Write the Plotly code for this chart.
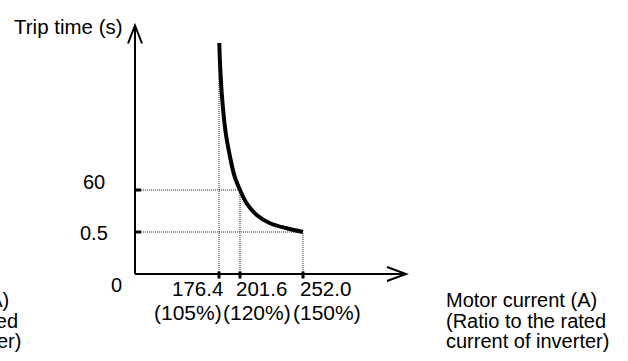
import plotly.graph_objects as go

# ---- data (schematic chart) ----
current_labels = ["176.4", "201.6", "252.0"]
ratio_labels = ["(105%)", "(120%)", "(150%)"]
time_labels = ["60", "0.5"]
origin_label = "0"
y_title = "Trip time (s)"
x_title_lines = ["Motor current (A)", "(Ratio to the rated", "current of inverter)"]

# schematic positions of the ticks along the axes
current_pos = [84, 105, 168]
time_pos = [84, 42]

# trip curve (schematic units)
curve_x = [84.3, 85, 87, 90.3, 95, 99.7, 105, 111.7, 121.7, 135, 151.7, 168]
curve_y = [231, 210.7, 177.3, 144, 117.3, 97.3, 84, 70.7, 59, 50.7, 45.7, 42]

FONT = "Arial, Liberation Sans, sans-serif"
X_END, Y_END = 271, 248.5
W, H = 628, 361
X0, Y0 = 135, 274        # origin position inside the figure (px)

fig = go.Figure()
fig.add_trace(go.Scatter(x=curve_x, y=curve_y, mode="lines",
                         line=dict(color="black", width=4, shape="spline"),
                         hoverinfo="skip", showlegend=False))

shapes = []
dot = dict(color="#222222", width=1, dash="1px,1px")
# dotted guides
shapes.append(dict(type="line", x0=current_pos[0], x1=current_pos[0], y0=0, y1=curve_y[0], line=dot))
shapes.append(dict(type="line", x0=current_pos[1], x1=current_pos[1], y0=0, y1=time_pos[0], line=dot))
shapes.append(dict(type="line", x0=current_pos[2], x1=current_pos[2], y0=0, y1=time_pos[1], line=dot))
shapes.append(dict(type="line", x0=0, x1=current_pos[1], y0=time_pos[0], y1=time_pos[0], line=dot))
shapes.append(dict(type="line", x0=0, x1=current_pos[2], y0=time_pos[1], y1=time_pos[1], line=dot))
# axes
ax = dict(color="black", width=2)
shapes.append(dict(type="line", x0=0, x1=0, y0=0, y1=Y_END, line=ax))
shapes.append(dict(type="line", x0=0, x1=X_END, y0=0, y1=0, line=ax))
shapes.append(dict(type="path", path=f"M -7,{Y_END-18} L 0,{Y_END} L 7,{Y_END-18}", line=ax))
shapes.append(dict(type="path", path=f"M {X_END-19},7 L {X_END},0 L {X_END-19},-7", line=ax))
# tick marks
tk = dict(color="black", width=3)
for p in current_pos:
    shapes.append(dict(type="line", x0=p, x1=p, y0=2.5, y1=-4.5, line=tk))
for p in time_pos:
    shapes.append(dict(type="line", x0=0, x1=6, y0=p, y1=p, line=tk))

ann = []
def txt(t, x, y, xa="center", ya="middle", xref="x", yref="y", size=20):
    ann.append(dict(text=t, x=x, y=y, xref=xref, yref=yref, xanchor=xa, yanchor=ya,
                    showarrow=False, font=dict(family=FONT, size=size, color="black")))

txt(y_title, -123, 248, xa="left", size=20.5)
txt(time_labels[0], -28, 92.5, xa="right")
txt(time_labels[1], -25, 41, xa="right")
txt(origin_label, -19, -11)
for lab, cx in zip(current_labels, [62.5, 126, 190.5]):
    txt(lab, cx, -14.5, size=20.5)
for lab, cx in zip(ratio_labels, [52.5, 122, 191.5]):
    txt(lab, cx, -38.5, size=21)
for line, cy in zip(x_title_lines, [-26, -46.5, -67]):
    txt(line, 309, cy, xa="left")
    # clipped copy at the left edge of the picture
    txt(line, -144 / W, (cy + (H - Y0)) / H, xa="left", xref="paper", yref="paper")

fig.update_layout(
    width=W, height=H,
    margin=dict(l=0, r=0, t=0, b=0),
    paper_bgcolor="white", plot_bgcolor="white",
    xaxis=dict(range=[-X0, W - X0], visible=False, fixedrange=True),
    yaxis=dict(range=[Y0 - H, Y0], visible=False, fixedrange=True),
    shapes=shapes, annotations=ann, showlegend=False,
)
fig.write_html("out.html", config={"displayModeBar": False},
               post_script="document.body.style.margin='0';document.body.style.overflow='hidden';")
